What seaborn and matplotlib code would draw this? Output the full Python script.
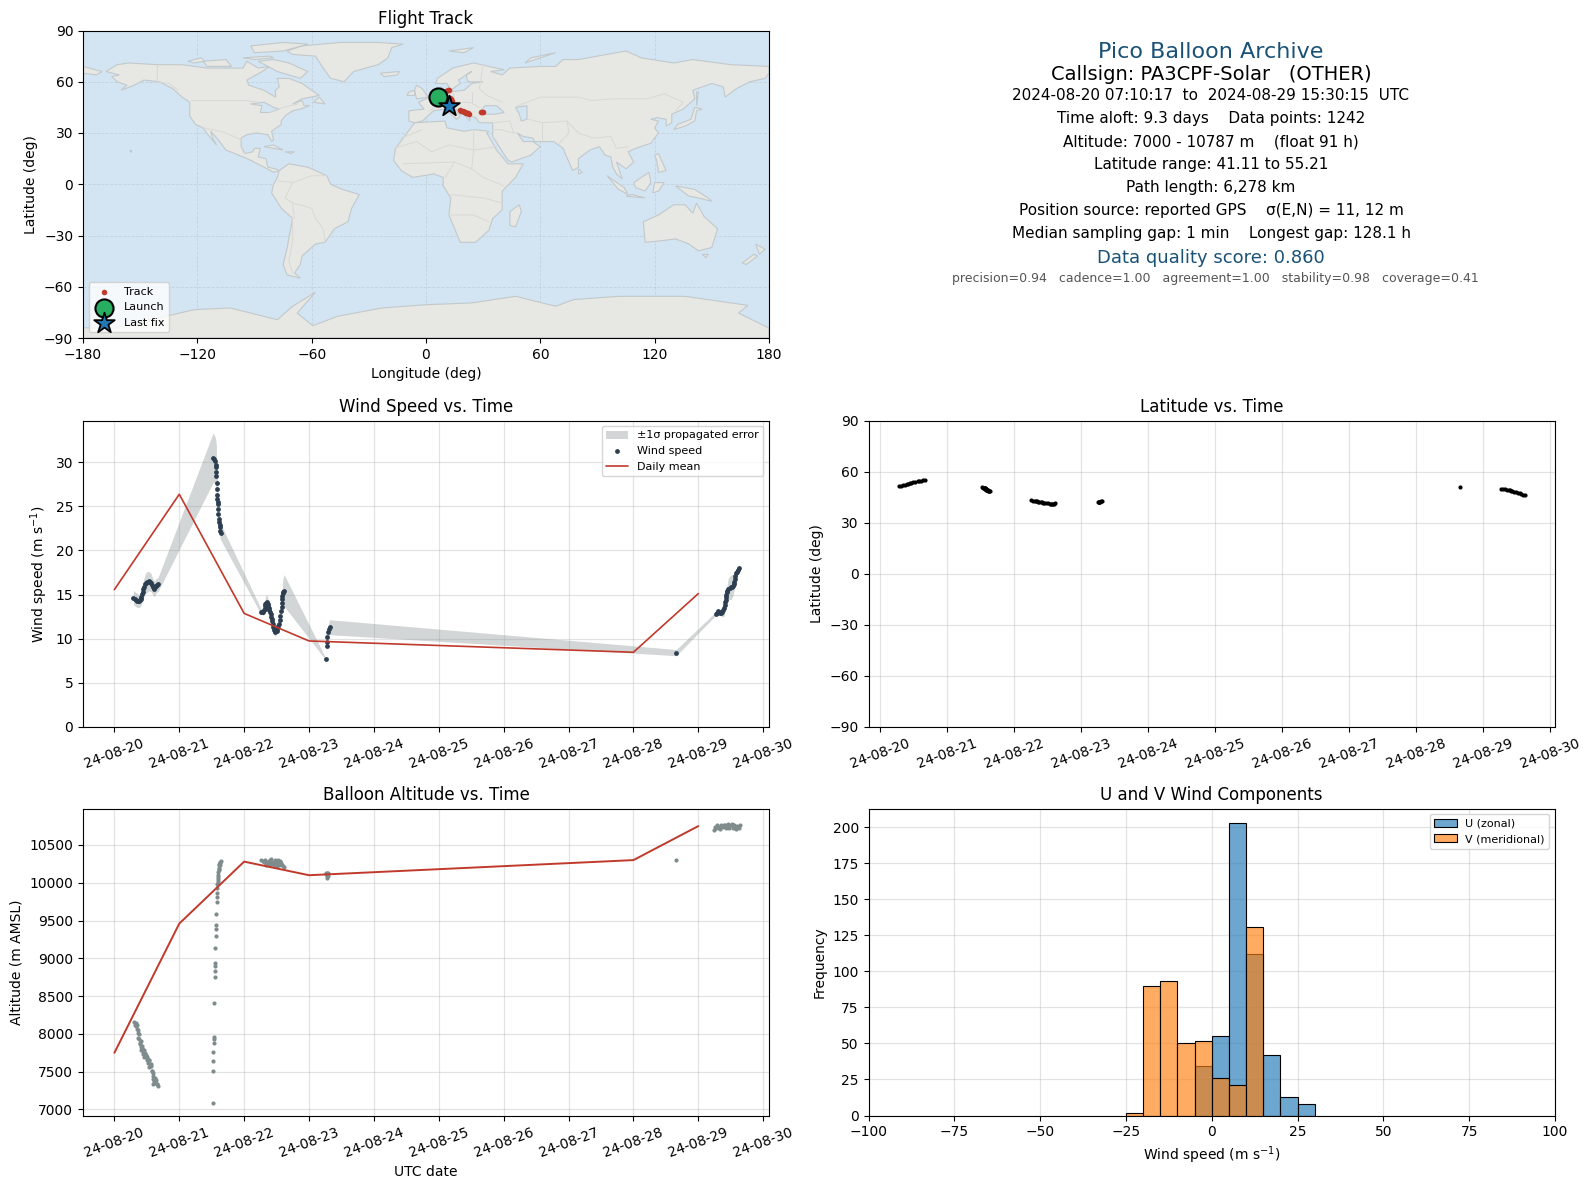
import numpy as np
import pandas as pd
import seaborn as sns
import matplotlib
matplotlib.use("Agg")
import matplotlib.pyplot as plt
import matplotlib.dates as mdates

# days since 2024-08-20 00:00, one list per flight segment
wind_days_1 = [.293, .319, .355, .386, .406, .427, .447, .473, .499, .535, .566, .591, .617, .643, .674]
wind_vals_1 = [14.66, 14.5, 14.3, 14.25, 14.5, 15.05, 15.6, 16.2, 16.4, 16.5, 16.35, 15.9, 15.65, 16.0, 16.15]
wind_sig_1 = [.8, .8, .8, .7, .8, .9, 1.0, 1.1, 1.2, 1.1, 1.0, .9, .9, .8, .8]
wind_days_2 = [1.522, 1.542, 1.558, 1.568, 1.573, 1.573, 1.573, 1.576, 1.589, 1.589, 1.589, 1.594, 1.594, 1.599, 1.604,
               1.609, 1.62, 1.622, 1.625, 1.63, 1.645]
wind_vals_2 = [30.49, 30.3, 30.1, 29.7, 29.4, 28.9, 28.4, 27.6, 26.9, 26.3, 25.8, 25.5, 25.2, 24.7, 24.1,
               23.5, 23.2, 22.9, 22.6, 22.2, 22.0]
wind_sig_2 = [2.8, 2.7, 2.6, 2.5, 2.3, 2.0, 1.8, 1.6, 1.4, 1.3, 1.2, 1.1, 1.1, 1.0, 1.0,
              .9, .9, .9, .9, .9, .9]
wind_days_3 = [2.262, 2.293, 2.314, 2.329, 2.35, 2.37, 2.386, 2.411, 2.427, 2.442, 2.458, 2.483, 2.514, 2.54, 2.56,
               2.576, 2.586, 2.596, 2.617]
wind_vals_3 = [13.05, 13.05, 13.4, 13.95, 14.1, 13.75, 13.2, 12.8, 12.25, 11.7, 11.0, 10.75, 11.1, 11.7, 12.6,
               13.6, 14.5, 15.15, 15.45]
wind_sig_3 = [.3, .4, .6, .8, .9, .7, .6, .5, .5, .4, .5, .5, .4, .5, .6, .8, 1.2, 1.6, 1.8]
wind_days_4 = [3.26, 3.27, 3.275, 3.28, 3.29, 3.306, 3.316]
wind_vals_4 = [7.67, 9.17, 9.6, 10.2, 10.75, 11.1, 11.3]
wind_sig_4 = [.1, .3, .4, .5, .6, .8, .85]
wind_days_5 = [8.66, 9.267, 9.308, 9.338, 9.369, 9.395, 9.415, 9.426, 9.441, 9.462, 9.503, 9.533, 9.554, 9.569, 9.595, 9.631]
wind_vals_5 = [8.42, 12.82, 13.08, 12.9, 13.0, 13.5, 14.13, 14.7, 15.26, 15.64, 15.83, 16.0, 16.4, 17.14, 17.6, 18.0]
wind_sig_5 = [.35, .2, .2, .3, .5, 1.0, .6, .5, .6, 1.2, 1.4, 1.2, .8, .5, .4, .3]
# more wind fixes, not used for the error band
wind_extra_days = [.34, .37, .395, .417, .437, .46, .486, .517, .55, .578, .604, .63, .658,
                   2.278, 2.302, 2.322, 2.34, 2.36, 2.378, 2.398, 2.419, 2.435, 2.45, 2.47, 2.5, 2.527, 2.55, 2.568, 2.581, 2.591, 2.606,
                   9.287, 9.323, 9.354, 9.382, 9.405, 9.42, 9.433, 9.45, 9.482, 9.518, 9.544, 9.561, 9.58, 9.613]
wind_extra_vals = [14.4, 14.27, 14.35, 14.75, 15.3, 15.9, 16.3, 16.45, 16.45, 16.1, 15.75, 15.8, 16.1,
                   13.05, 13.2, 13.7, 14.05, 13.95, 13.5, 13, 12.5, 12, 11.35, 10.85, 10.9, 11.4, 12.1, 13.1, 14.05, 14.8, 15.3,
                   12.95, 13, 12.95, 13.25, 13.8, 14.4, 15, 15.45, 15.75, 15.9, 16.2, 16.8, 17.4, 17.8]

mean_days = [0, 1, 2, 3, 8, 9]
wind_mean = [15.56, 26.35, 12.86, 9.74, 8.46, 15.1]
alt_mean = [7750, 9460, 10280, 10100, 10300, 10750]

alt_days_1 = [.308, .328, .354, .359, .374, .38, .405, .405, .431, .446, .472, .482, .508, .528, .549, .569, .579, .6, .61, .6, .641, .651, .677,
              .318, .34, .35, .365, .37, .39, .4, .415, .42, .44, .455, .46, .48, .495, .5, .52, .535, .54, .56, .575, .59, .6, .62, .63, .66]
alt_vals_1 = [8159, 8146, 8124, 8058, 7992, 7939, 7904, 7825, 7816, 7763, 7750, 7706, 7684, 7649, 7596, 7574, 7508, 7442, 7376, 7332, 7385, 7332, 7306,
              8120, 8100, 8060, 8010, 7950, 7880, 7860, 7790, 7840, 7740, 7790, 7700, 7720, 7650, 7700, 7620, 7660, 7560, 7600, 7510, 7480, 7400, 7350, 7420, 7340]
alt_days_2 = [1.523, 1.523, 1.523, 1.523, 1.533, 1.533, 1.538, 1.538, 1.554, 1.554, 1.554, 1.554, 1.554, 1.569, 1.569, 1.569, 1.569,
              1.574, 1.579, 1.584, 1.584, 1.589, 1.595, 1.595, 1.6, 1.605, 1.615, 1.631, 1.636,
              1.59, 1.597, 1.602, 1.607, 1.61, 1.62, 1.625, 1.628]
alt_vals_2 = [7088, 7504, 7636, 7754, 7882, 7926, 7961, 8414, 8758, 8837, 8894, 8938, 9140, 9299, 9391, 9444, 9589,
              9752, 9818, 9862, 9928, 9981, 10025, 10082, 10148, 10201, 10245, 10271, 10293,
              10000, 10050, 10100, 10170, 10180, 10230, 10260, 10240]
alt_days_3 = [2.267, 2.303, 2.344, 2.395, 2.436, 2.472, 2.508, 2.549, 2.574, 2.6, 2.615, 2.344, 2.42, 2.5, 3.267, 3.27, 3.28, 3.262, 3.29,
              2.285, 2.32, 2.36, 2.38, 2.41, 2.45, 2.46, 2.49, 2.52, 2.53, 2.56, 2.585, 2.33, 2.4, 2.47, 3.275, 3.285, 3.3]
alt_vals_3 = [10302, 10271, 10280, 10306, 10280, 10302, 10258, 10289, 10258, 10227, 10210, 10245, 10245, 10225, 10126, 10090, 10060, 10110, 10120,
              10285, 10300, 10250, 10290, 10310, 10260, 10230, 10290, 10300, 10235, 10275, 10240, 10230, 10235, 10255, 10130, 10095, 10125]
alt_days_4 = [8.66, 9.24, 9.27, 9.31, 9.33, 9.36, 9.39, 9.42, 9.46, 9.5, 9.53, 9.55, 9.58, 9.6, 9.64,
              9.26, 9.29, 9.32, 9.35, 9.38, 9.41, 9.44, 9.48, 9.52, 9.56, 9.62]
alt_vals_4 = [10300, 10700, 10720, 10740, 10710, 10750, 10770, 10730, 10775, 10760, 10720, 10770, 10715, 10745, 10770,
              10735, 10760, 10730, 10770, 10740, 10765, 10750, 10720, 10775, 10740, 10730]

lat_vals_1 = [51.6, 51.8, 52.0, 52.3, 52.6, 52.8, 53.1, 53.4, 53.6, 53.9, 54.2, 54.4, 54.7, 55.0, 55.2]
lat_vals_2 = [50.7, 50.5, 50.4, 50.2, 50.2, 50.1, 50.0, 49.9, 49.7, 49.6, 49.6, 49.5, 49.4, 49.3, 49.2,
              49.1, 48.9, 48.8, 48.7, 48.6, 48.5]
lat_vals_3 = [43.1, 42.9, 42.8, 42.6, 42.5, 42.3, 42.2, 42.0, 41.9, 41.7, 41.6, 41.5, 41.3, 41.2, 41.2,
              41.1, 41.2, 41.2, 41.3]
lat_vals_4 = [42.1, 42.2, 42.3, 42.3, 42.4, 42.5, 42.5]
lat_vals_5 = [51.0, 50.0, 49.8, 49.6, 49.4, 49.2, 49.0, 48.8, 48.5, 48.2, 48.0, 47.6, 47.2, 46.9, 46.5, 46.1]

track_lon = [5.2, 6.5, 7.6, 8.8, 9.8, 10.7, 11.5, 12.0, 12.6, 13.2, 13.6, 13.0, 12.4, 18.0, 18.6, 19.2, 19.8, 20.4, 21.0, 21.6, 22.2, 22.8, 29.0, 29.5, 30.0]
track_lat = [51.5, 52.0, 52.6, 53.2, 53.8, 54.3, 54.9, 55.2, 50.4, 49.8, 49.0, 48.0, 46.5, 43.2, 42.8, 42.6, 42.3, 42.1, 41.9, 41.7, 41.5, 41.2, 42.2, 42.3, 42.5]
launch_lon, launch_lat = [6.2], [51.3]
last_lon, last_lat = [12.3], [45.6]

hist_edges = [-25, -20, -15, -10, -5, 0, 5, 10, 15, 20, 25, 30]
u_counts = [0, 0, 0, 0, 34, 55, 203, 112, 42, 13, 8]
v_counts = [2, 90, 93, 50, 52, 26, 21, 131, 0, 0, 0]

north_america = [(-168, 66), (-162, 70), (-156, 71), (-141, 70), (-128, 70), (-115, 68), (-108, 68), (-96, 68), (-94, 72), (-88, 68),
                 (-82, 69), (-86, 66), (-94, 61), (-93, 58), (-85, 55), (-82, 53), (-79, 51), (-79, 55), (-77, 57), (-78, 62), (-72, 62),
                 (-65, 59), (-60, 55), (-56, 52), (-65, 50), (-70, 47), (-65, 49), (-64, 46), (-61, 46), (-66, 44), (-70, 43), (-74, 40),
                 (-76, 37), (-76, 35), (-81, 31), (-80, 26), (-81, 25), (-83, 29), (-89, 30), (-94, 29), (-97, 27), (-97, 22), (-95, 18),
                 (-91, 19), (-90, 21), (-87, 21), (-88, 16), (-84, 15), (-83, 10), (-79, 9), (-77, 8), (-80, 7), (-85, 10), (-92, 14),
                 (-96, 16), (-105, 20), (-109, 26), (-113, 31), (-112, 27), (-110, 23), (-113, 27), (-117, 33), (-121, 35), (-124, 40),
                 (-124, 48), (-128, 51), (-133, 56), (-140, 60), (-148, 61), (-153, 58), (-160, 55), (-157, 58), (-162, 60), (-165, 63),
                 (-161, 64)]
greenland = [(-73, 78), (-65, 81), (-45, 83), (-25, 83), (-12, 82), (-18, 80), (-20, 74), (-25, 70), (-38, 66), (-43, 60), (-50, 62), (-54, 68), (-58, 75), (-70, 76)]
baffin = [(-80, 73), (-72, 71), (-62, 66), (-66, 62), (-72, 64), (-78, 66), (-88, 72)]
victoria = [(-117, 72), (-105, 73), (-102, 69), (-115, 69)]
ellesmere = [(-90, 77), (-75, 78), (-62, 82), (-75, 83), (-92, 81)]
banks = [(-125, 72), (-118, 74), (-116, 72), (-122, 71)]
devon = [(-96, 74), (-82, 75), (-80, 74), (-90, 73)]
newfoundland = [(-59, 48), (-56, 51), (-53, 47)]
chukotka = [(-180, 69), (-170, 66), (-173, 64), (-180, 65)]
hawaii = [(-156, 20), (-155, 20), (-155, 19)]
south_america = [(-77, 8), (-72, 12), (-62, 10), (-52, 5), (-50, 0), (-44, -3), (-35, -6), (-39, -14), (-41, -22), (-48, -26), (-53, -34),
                 (-58, -35), (-62, -39), (-65, -42), (-66, -47), (-69, -52), (-66, -55), (-73, -53), (-75, -47), (-73, -38), (-70, -20),
                 (-76, -14), (-81, -5), (-80, 0), (-78, 4)]
africa = [(-6, 36), (10, 37), (11, 33), (20, 31), (25, 32), (33, 31), (32, 30), (37, 20), (43, 12), (51, 12), (47, 4), (40, -4), (40, -15),
          (35, -20), (33, -27), (26, -34), (18, -34), (12, -18), (13, -8), (9, -1), (9, 4), (4, 6), (-7, 4), (-13, 8), (-17, 14), (-16, 21), (-10, 30)]
eurasia = [(-9, 37), (-9, 43), (-1, 44), (-4, 48), (2, 51), (8, 54), (8, 57), (11, 54), (20, 55), (24, 59), (30, 60), (22, 60), (21, 64),
           (24, 66), (17, 61), (18, 59), (13, 55), (11, 59), (5, 59), (6, 62), (14, 68), (25, 71), (41, 67), (34, 66), (40, 64), (44, 68),
           (60, 69), (68, 69), (72, 73), (80, 73), (105, 78), (113, 74), (130, 71), (140, 73), (160, 70), (180, 69), (180, 65), (178, 62),
           (170, 60), (163, 56), (157, 51), (156, 57), (150, 59), (140, 55), (141, 50), (135, 44), (129, 41), (129, 36), (126, 34), (126, 38),
           (121, 39), (118, 38), (122, 37), (120, 33), (122, 30), (118, 24), (110, 21), (106, 19), (109, 13), (105, 9), (100, 13), (103, 3),
           (100, 6), (98, 10), (97, 16), (94, 17), (91, 22), (86, 20), (80, 15), (80, 10), (77, 8), (73, 18), (72, 21), (67, 25), (57, 25),
           (56, 27), (51, 28), (48, 30), (51, 25), (56, 25), (60, 22), (55, 17), (45, 13), (43, 14), (39, 21), (35, 28), (35, 36), (28, 36),
           (26, 39), (23, 40), (23, 37), (19, 42), (14, 45), (18, 40), (16, 38), (10, 44), (4, 43), (0, 39), (-2, 37), (-6, 36)]
australia = [(114, -22), (122, -18), (130, -12), (136, -12), (140, -17), (142, -11), (146, -19), (153, -26), (150, -37), (143, -39), (138, -35), (131, -32), (124, -33), (115, -34)]
antarctica = [(-180, -84), (-163.6, -84.2), (-121.5, -73.4), (-102.7, -72.4), (-78, -79.3), (-70, -71.4), (-58, -63.2), (-67.6, -75.4), (-59.4, -82.8),
              (-46.5, -77.3), (-23, -72.4), (0.3, -70.5), (23.7, -69.5), (47, -65.6), (68, -71.4), (77.6, -67.5), (101, -65.6), (136, -65.6),
              (169, -70.9), (164, -75.4), (180, -84.2), (180, -90), (-180, -90)]
madagascar = [(44, -16), (49, -12), (50, -16), (47, -25), (44, -24)]
britain = [(-5, 50), (1, 51), (-2, 56), (-5, 58), (-6, 55)]
ireland = [(-10, 52), (-6, 52), (-6, 55), (-9, 54)]
iceland = [(-24, 65), (-14, 66), (-15, 64), (-22, 63)]
svalbard = [(12, 78), (25, 80), (20, 77)]
novaya = [(52, 71), (68, 77), (55, 74)]
japan = [(130, 32), (136, 34), (141, 37), (142, 43), (145, 44), (141, 45), (139, 38), (132, 35)]
sakhalin = [(142, 46), (143, 54), (142, 54)]
sumatra = [(95, 5), (104, -2), (106, -6), (101, -3)]
java = [(105, -7), (115, -8), (108, -6)]
borneo = [(109, 1), (117, 7), (118, 1), (115, -4), (110, -2)]
sulawesi = [(119, -5), (120, 1), (125, 1), (122, -4)]
new_guinea = [(131, -1), (141, -3), (148, -8), (150, -10), (143, -8), (138, -7)]
philippines = [(120, 17), (122, 18), (126, 8), (122, 7), (121, 14)]
nz_north = [(173, -35), (178, -38), (175, -41)]
nz_south = [(172, -41), (174, -42), (168, -47), (166, -46)]
tasmania = [(145, -41), (148, -41), (147, -43)]
cuba = [(-85, 22), (-75, 20), (-80, 23)]
hispaniola = [(-74, 19), (-69, 19), (-71, 18)]
sri_lanka = [(80, 9), (82, 7), (80, 6)]
black_sea = [(28, 42), (31, 46), (37, 46), (41, 42), (36, 41), (30, 41)]
caspian = [(47, 45), (53, 46), (53, 38), (50, 37), (49, 41)]
great_lakes = [(-92, 47), (-85, 48), (-80, 45), (-77, 44), (-82, 42), (-87, 42), (-86, 46)]

land_shapes = [north_america, greenland, baffin, victoria, ellesmere, banks, devon, newfoundland, chukotka, hawaii, south_america, africa, eurasia,
               australia, antarctica, madagascar, britain, ireland, iceland, svalbard, novaya, japan, sakhalin, sumatra, java, borneo,
               sulawesi, new_guinea, philippines, nz_north, nz_south, tasmania, cuba, hispaniola, sri_lanka]
water_shapes = [black_sea, caspian, great_lakes]

# faint political borders
borders = [
    [(-141, 70), (-141, 60), (-135, 59), (-130, 55)],
    [(-123, 49), (-95, 49), (-88, 48)],
    [(-82, 42), (-75, 45), (-67, 47)],
    [(-117, 33), (-108, 31), (-103, 29), (-97, 26)],
    [(-52, 5), (-60, 5), (-70, 1), (-74, -8), (-70, -11), (-60, -14), (-58, -20), (-54, -26), (-53, -33)],
    [(-70, -20), (-70, -33), (-72, -45), (-70, -52)],
    [(-70, -11), (-69, -20)],
    [(-78, 2), (-70, 1)],
    [(-13, 27), (-2, 32)],
    [(-17, 21), (-5, 25), (3, 19), (12, 23), (25, 20), (37, 22)],
    [(25, 32), (25, 20), (24, 9), (30, 4), (41, -1)],
    [(-12, 12), (15, 13), (24, 9)],
    [(12, -6), (30, -8), (40, -11)],
    [(12, -18), (25, -18), (33, -22)],
    [(10, 4), (15, 13)],
    [(30, 70), (28, 56), (32, 52), (40, 48)],
    [(48, 46), (60, 51), (80, 51), (87, 49), (98, 50), (116, 50), (125, 53), (135, 48), (131, 43)],
    [(54, 38), (61, 36), (74, 37), (80, 30), (88, 27), (97, 28), (100, 21), (106, 22)],
    [(61, 36), (61, 25)],
    [(74, 37), (75, 30), (70, 24)],
    [(44, 37), (46, 30), (48, 30)],
    [(36, 32), (39, 32), (46, 30)],
    [(44, 37), (36, 36)],
    [(2, 43), (8, 48), (14, 48), (23, 48), (28, 45)],
    [(14, 54), (15, 50)],
    [(24, 54), (24, 48)],
]

info_lines = [
    ("Pico Balloon Archive", 16, "#1a5276", 51),
    ("Callsign: PA3CPF-Solar   (OTHER)", 14, "black", 73),
    ("2024-08-20 07:10:17  to  2024-08-29 15:30:15  UTC", 11, "black", 94),
    ("Time aloft: 9.3 days    Data points: 1242", 11, "black", 117),
    ("Altitude: 7000 - 10787 m    (float 91 h)", 11, "black", 140),
    ("Latitude range: 41.11 to 55.21", 11, "black", 162),
    ("Path length: 6,278 km", 11, "black", 185),
    ("Position source: reported GPS    σ(E,N) = 11, 12 m", 11, "black", 207),
    ("Median sampling gap: 1 min    Longest gap: 128.1 h", 11, "black", 230),
    ("Data quality score: 0.860", 13, "#1a5276", 254),
]
score_detail = "precision=0.94   cadence=1.00   agreement=1.00   stability=0.98   coverage=0.41"

sns.set_style("ticks", rc={"axes.edgecolor": "black", "text.color": "black", "axes.labelcolor": "black",
                           "xtick.color": "black", "ytick.color": "black", "font.family": ["DejaVu Sans"]})
plt.rcParams["font.family"] = ["DejaVu Sans"]

W, H = 1588, 1189
OCEAN, LAND, COAST = "#d3e5f2", "#e7e7e3", "#c2c9cc"
RED, NAVY, SLATE = "#c0392b", "#2c3e50", "#7f8c8d"


def to_dates(days):
    return pd.Timestamp("2024-08-20") + pd.to_timedelta(np.asarray(days), unit="D")


def make_axes(left, top, right, bottom):
    return fig.add_axes([left / W, 1 - bottom / H, (right - left) / W, (bottom - top) / H])


def date_axis(ax, t0, t1):
    ax.set_xlim(to_dates([t0])[0], to_dates([t1])[0])
    ax.xaxis.set_major_locator(mdates.DayLocator())
    ax.xaxis.set_major_formatter(mdates.DateFormatter("%y-%m-%d"))
    ax.tick_params(axis="x", labelrotation=20)
    ax.grid(True, color="#b0b0b0", alpha=0.35, linewidth=0.9)
    ax.set_axisbelow(True)


fig = plt.figure(figsize=(W / 100, H / 100), dpi=100)

# map panel
ax = make_axes(83, 30.5, 769, 338)
ax.set_facecolor(OCEAN)
for shape in land_shapes:
    lon, lat = zip(*shape)
    ax.fill(lon, lat, facecolor=LAND, edgecolor=COAST, linewidth=0.8, zorder=1)
for shape in water_shapes:
    lon, lat = zip(*shape)
    ax.fill(lon, lat, facecolor=OCEAN, edgecolor=COAST, linewidth=0.8, zorder=1.1)
for line in borders:
    lon, lat = zip(*line)
    ax.plot(lon, lat, color="#d8d9d6", linewidth=0.7, zorder=1.2)
ax.grid(True, color="#888888", alpha=0.2, linewidth=0.6, linestyle="--", zorder=2)
sns.scatterplot(x=track_lon, y=track_lat, ax=ax, color=RED, s=16, linewidth=0, label="Track", zorder=3)
ax.scatter(launch_lon, launch_lat, s=170, color="#27ae60", edgecolors="black", linewidths=1.5, label="Launch", zorder=4)
ax.scatter(last_lon, last_lat, s=240, marker="*", color="#1f77b4", edgecolors="black", linewidths=1.3, label="Last fix", zorder=5)
ax.set_xlim(-180, 180)
ax.set_ylim(-90, 90)
ax.set_xticks(range(-180, 181, 60))
ax.set_yticks(range(-90, 91, 30))
ax.set_xlabel("Longitude (deg)")
ax.set_ylabel("Latitude (deg)")
ax.set_title("Flight Track", fontsize=12, pad=4.5)
ax.legend(loc="lower left", fontsize=8, framealpha=0.8)

# summary text
for text, size, color, y in info_lines:
    fig.text(1211 / W, 1 - y * 1.0145 / H, text, fontsize=size, color=color, ha="center", va="center")
fig.text(1215 / W, 1 - 275 * 1.0145 / H, score_detail, fontsize=9, color="#555555", ha="center", va="center")

# wind speed
ax = make_axes(83, 420.5, 769, 727)
wind_days = wind_days_1 + wind_days_2 + wind_days_3 + wind_days_4 + wind_days_5
wind_vals = np.array(wind_vals_1 + wind_vals_2 + wind_vals_3 + wind_vals_4 + wind_vals_5)
wind_sig = np.array(wind_sig_1 + wind_sig_2 + wind_sig_3 + wind_sig_4 + wind_sig_5)
wind_t = to_dates(wind_days)
ax.fill_between(wind_t, wind_vals - wind_sig, wind_vals + wind_sig, color=SLATE, alpha=0.35, linewidth=0, label="±1σ propagated error")
sns.scatterplot(x=to_dates(wind_days + wind_extra_days), y=list(wind_vals) + wind_extra_vals, ax=ax, color=NAVY, s=12, linewidth=0,
                label="Wind speed", zorder=3)
sns.lineplot(x=to_dates(mean_days), y=wind_mean, ax=ax, color=RED, linewidth=1.2, label="Daily mean", zorder=4)
date_axis(ax, -0.484, 10.09)
ax.set_ylim(0, 34.7)
ax.set_xlabel("")
ax.set_ylabel("Wind speed (m s$^{-1}$)")
ax.set_title("Wind Speed vs. Time", fontsize=12)
ax.legend(loc="upper right", fontsize=8)

# latitude
ax = make_axes(868.5, 420.5, 1555, 727)
lat_vals = lat_vals_1 + lat_vals_2 + lat_vals_3 + lat_vals_4 + lat_vals_5
sns.scatterplot(x=wind_t, y=lat_vals, ax=ax, color="black", s=9, linewidth=0, zorder=3)
date_axis(ax, -0.166, 10.08)
ax.set_ylim(-90, 90)
ax.set_yticks(range(-90, 91, 30))
ax.set_xlabel("")
ax.set_ylabel("Latitude (deg)")
ax.set_title("Latitude vs. Time", fontsize=12)

# altitude
ax = make_axes(83, 808.5, 769, 1115.5)
alt_t = to_dates(alt_days_1 + alt_days_2 + alt_days_3 + alt_days_4)
alt_vals = alt_vals_1 + alt_vals_2 + alt_vals_3 + alt_vals_4
sns.scatterplot(x=alt_t, y=alt_vals, ax=ax, color=SLATE, s=9, linewidth=0, zorder=3)
sns.lineplot(x=to_dates(mean_days), y=alt_mean, ax=ax, color=RED, linewidth=1.4, zorder=4)
date_axis(ax, -0.484, 10.09)
ax.set_ylim(6920, 10983)
ax.set_xlabel("UTC date")
ax.set_ylabel("Altitude (m AMSL)")
ax.set_title("Balloon Altitude vs. Time", fontsize=12)

# U / V histogram
ax = make_axes(868.5, 808.5, 1555, 1115.5)
centers = [(a + b) / 2 for a, b in zip(hist_edges[:-1], hist_edges[1:])]
sns.histplot(x=centers, weights=u_counts, bins=hist_edges, ax=ax, color="tab:blue", alpha=0.65, edgecolor="black",
             linewidth=0.8, label="U (zonal)", zorder=3)
sns.histplot(x=centers, weights=v_counts, bins=hist_edges, ax=ax, color="tab:orange", alpha=0.65, edgecolor="black",
             linewidth=0.8, label="V (meridional)", zorder=3)
ax.set_xlim(-100, 100)
ax.set_ylim(0, 213)
ax.grid(True, color="#b0b0b0", alpha=0.35, linewidth=0.9)
ax.set_axisbelow(True)
ax.set_xlabel("Wind speed (m s$^{-1}$)")
ax.set_ylabel("Frequency")
ax.set_title("U and V Wind Components", fontsize=12)
ax.legend(loc="upper right", fontsize=8)

fig.savefig("out.png", dpi=100)
